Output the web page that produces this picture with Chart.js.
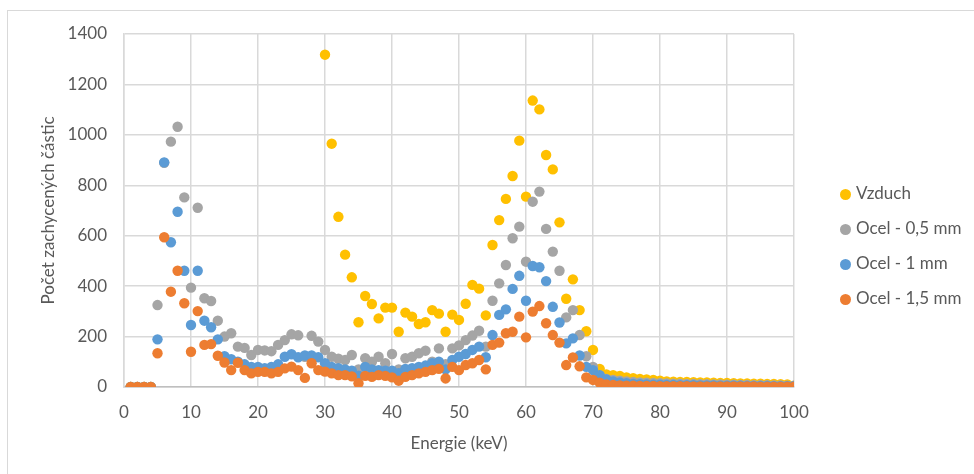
<!DOCTYPE html>
<html>
<head>
<meta charset="utf-8">
<script src="https://cdn.jsdelivr.net/npm/chart.js@4"></script>
<style>
  html, body { margin: 0; padding: 0; background: #fff; overflow: hidden; }
  #wrap { position: relative; width: 974px; height: 474px; }
  #frame { position: absolute; left: 7px; top: 10px; width: 2000px; height: 2000px; border: 1px solid #d9d9d9; }
  #chart { position: absolute; left: 0; top: 0; }
  #legend { position: absolute; left: 840px; top: 181px; font-family: Lato, "Open Sans", sans-serif; font-size: 17px; color: #595959; }
  #legend div { height: 35px; line-height: 24px; white-space: nowrap; }
  #legend span.dot { display: inline-block; width: 11px; height: 11px; border-radius: 50%; margin-right: 5px; vertical-align: -1px; }
</style>
</head>
<body>
<div id="wrap">
  <div id="frame"></div>
  <canvas id="chart" width="974" height="474"></canvas>
  <div id="legend"></div>
</div>
<script>
// energie (keV) 1..100
const energie = [
  1,2,3,4,5,6,7,8,9,10, 11,12,13,14,15,16,17,18,19,20,
  21,22,23,24,25,26,27,28,29,30, 31,32,33,34,35,36,37,38,39,40,
  41,42,43,44,45,46,47,48,49,50, 51,52,53,54,55,56,57,58,59,60,
  61,62,63,64,65,66,67,68,69,70, 71,72,73,74,75,76,77,78,79,80,
  81,82,83,84,85,86,87,88,89,90, 91,92,93,94,95,96,97,98,99,100
];

const vzduch = [
  0,0,0,0,null,null,null,null,null,null,
  null,null,null,null,null,null,null,null,null,null,
  null,null,null,null,null,null,null,null,null,1318,
  965,675,525,435,257,361,329,272,315,315,
  219,295,279,250,257,305,291,219,287,266,
  330,405,390,284,563,662,746,837,977,755,
  1136,1101,920,863,653,350,427,305,221,147,
  72,50,47,44,38,35,32,30,28,25,
  22,21,20,20,19,18,18,17,16,16,
  15,14,14,13,13,12,12,11,10,5
];

const ocel05 = [
  0,0,0,0,325,889,973,1032,752,394,
  711,352,341,263,200,213,160,155,127,147,
  145,142,167,186,209,205,120,203,180,147,
  120,112,107,127,70,114,100,120,94,131,
  70,114,120,134,144,100,153,90,153,165,
  186,204,223,160,342,411,484,590,636,497,
  735,775,627,537,461,276,305,206,122,80,
  45,32,28,25,22,20,18,17,16,15,
  14,13,13,12,12,11,11,10,10,9,
  9,8,8,7,7,7,6,6,5,5
];

const ocel1 = [
  0,0,0,0,189,891,574,695,461,246,
  461,263,237,189,122,110,100,90,80,80,
  75,80,90,120,130,118,125,125,118,94,
  80,75,70,65,45,80,70,67,65,65,
  55,72,75,80,85,94,100,70,107,120,
  131,147,160,118,206,286,308,389,441,342,
  480,475,420,318,256,173,193,125,80,67,
  47,30,22,18,15,12,11,10,9,9,
  8,8,7,7,7,6,6,6,5,5,
  5,5,4,4,4,4,3,3,3,3
];

const ocel15 = [
  0,0,0,0,134,594,378,461,332,140,
  301,167,170,124,97,67,96,67,54,60,
  60,54,60,74,81,67,36,94,67,61,
  54,47,47,42,15,44,40,47,44,38,
  25,40,47,54,60,67,72,34,80,67,
  87,94,107,70,167,176,213,219,279,197,
  299,321,253,206,176,87,117,82,38,28,
  17,10,8,6,5,5,4,4,4,3,
  3,3,3,3,2,2,2,2,2,2,
  2,2,2,2,1,1,1,1,1,1
];

const serieNames = ["Vzduch", "Ocel - 0,5 mm", "Ocel - 1 mm", "Ocel - 1,5 mm"];
const serieColors = ["#FFC000", "#A5A5A5", "#5B9BD5", "#ED7D31"];
const serieValues = [vzduch, ocel05, ocel1, ocel15];

const TEXT = "#595959";
const FONT = "Lato, 'Open Sans', sans-serif";

function toPoints(vals) {
  return energie.map((e, i) => ({ x: e, y: vals[i] }));
}

const datasets = serieNames.map((name, i) => ({
  label: name,
  data: toPoints(serieValues[i]),
  backgroundColor: serieColors[i],
  borderColor: serieColors[i],
  borderWidth: 0,
  pointRadius: 5.2,
  pointHoverRadius: 5.2,
  // excel kreslí poslední sérii navrch
  order: serieNames.length - i
}));

new Chart(document.getElementById("chart").getContext("2d"), {
  type: "scatter",
  data: { datasets },
  options: {
    responsive: false,
    animation: false,
    devicePixelRatio: 1,
    layout: { padding: { left: 0, right: 180, top: 34, bottom: 0 } },
    plugins: {
      legend: { display: false },
      tooltip: { enabled: false }
    },
    scales: {
      x: {
        type: "linear",
        min: 0,
        max: 100,
        ticks: { stepSize: 10, color: TEXT, font: { family: FONT, size: 17 }, padding: 15, callback: v => String(v) },
        grid: { color: "#d9d9d9", lineWidth: 1.5, drawTicks: false },
        border: { color: "#bfbfbf", width: 1.5 },
        title: { display: true, text: "Energie (keV)", color: TEXT, font: { family: FONT, size: 17 }, padding: { top: 0, bottom: 20 } },
        afterFit: s => { s.height = 87; }
      },
      y: {
        min: 0,
        max: 1400,
        ticks: { stepSize: 200, color: TEXT, font: { family: FONT, size: 17 }, padding: 17, callback: v => String(v) },
        grid: { color: "#d9d9d9", lineWidth: 1.5, drawTicks: false },
        border: { color: "#d9d9d9", width: 1.5 },
        title: { display: true, text: "Počet zachycených částic", color: TEXT, font: { family: FONT, size: 17 }, padding: { top: 38, bottom: 0 } },
        afterFit: s => { s.width = 124; }
      }
    }
  }
});

// legenda vpravo
const legend = document.getElementById("legend");
serieNames.forEach((name, i) => {
  const row = document.createElement("div");
  row.innerHTML = `<span class="dot" style="background:${serieColors[i]}"></span>${name}`;
  legend.appendChild(row);
});
</script>
</body>
</html>
